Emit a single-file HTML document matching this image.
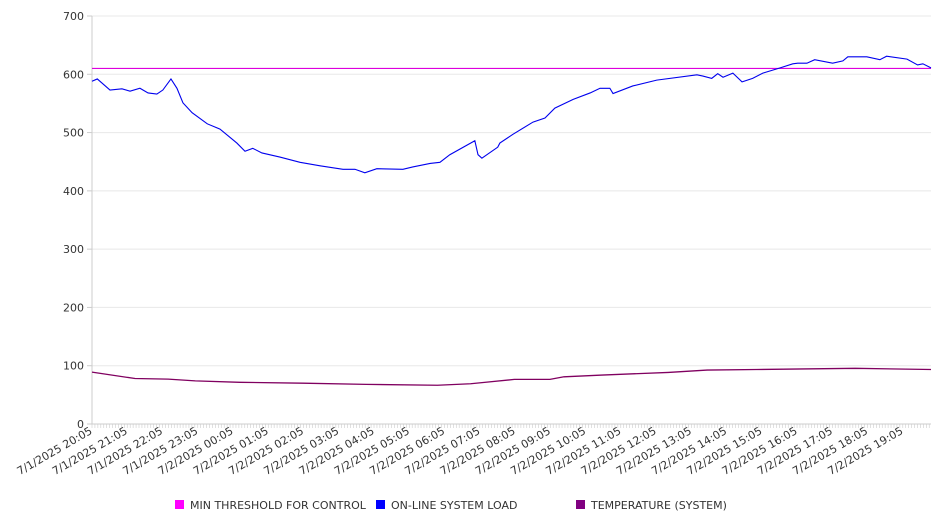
<!DOCTYPE html>
<html><head><meta charset="utf-8"><style>
html,body{margin:0;padding:0;background:#fff;}
svg{display:block;font-family:"DejaVu Sans","Liberation Sans",sans-serif;}
</style></head><body>
<svg id="chart" width="946" height="526" viewBox="0 0 946 526" xmlns="http://www.w3.org/2000/svg">
<g id="grid"></g>
<g id="yaxis"></g>
<g id="xaxis"></g>
<g id="series"></g>
<g font-size="11" fill="#333">
  <g><rect x="175" y="500" width="9" height="9" fill="#ff00ff"/><text x="190" y="509">MIN THRESHOLD FOR CONTROL</text></g>
  <g><rect x="376" y="500" width="9" height="9" fill="#0000ff"/><text x="391" y="509">ON-LINE SYSTEM LOAD</text></g>
  <g><rect x="576" y="500" width="9" height="9" fill="#800080"/><text x="591" y="509">TEMPERATURE (SYSTEM)</text></g>
</g>
</svg>
<script>
const yTicks = [0,100,200,300,400,500,600,700];
const xLabels = ["7/1/2025 20:05","7/1/2025 21:05","7/1/2025 22:05","7/1/2025 23:05","7/2/2025 00:05","7/2/2025 01:05","7/2/2025 02:05","7/2/2025 03:05","7/2/2025 04:05","7/2/2025 05:05","7/2/2025 06:05","7/2/2025 07:05","7/2/2025 08:05","7/2/2025 09:05","7/2/2025 10:05","7/2/2025 11:05","7/2/2025 12:05","7/2/2025 13:05","7/2/2025 14:05","7/2/2025 15:05","7/2/2025 16:05","7/2/2025 17:05","7/2/2025 18:05","7/2/2025 19:05"];
const threshold = 610;
const loadHours = [0,0.15,0.51,0.85,1.08,1.36,1.59,1.84,2.01,2.24,2.41,2.58,2.84,3.27,3.63,4.11,4.34,4.56,4.82,5.33,5.90,6.47,7.12,7.46,7.74,8.08,8.82,9.10,9.59,9.87,10.15,10.86,10.95,11.06,11.51,11.57,11.94,12.51,12.85,13.13,13.65,14.13,14.41,14.69,14.78,15.34,16.02,17.16,17.33,17.58,17.75,17.90,18.18,18.44,18.74,19.03,19.52,19.88,20.02,20.28,20.50,21.01,21.30,21.44,21.98,22.35,22.54,23.12,23.42,23.57,23.80];
const loadValues = [588,592,573,575,571,576,568,566,573,592,576,551,534,515,506,482,468,473,465,458,449,443,437,437,431,438,437,441,447,449,462,486,462,456,475,482,497,518,525,542,557,568,576,576,567,580,590,599,597,593,601,595,602,587,593,602,611,618,619,619,625,619,623,630,630,625,631,626,616,618,611];
const tempHours = [0,1.22,2.16,2.93,4.19,5.99,7.78,9.80,10.74,11.98,12.99,13.39,14.47,16.35,17.45,18.85,21.65,23.80];
const tempValues = [89,78,77,74,71.5,70,68,66.5,69,76.5,76.5,81,84,88.5,92.5,93.5,95.5,93.5];

const X0=92, X1=931, Y0=424, Y1=16, HMAX=23.80;
const xs = h => X0 + (h/HMAX)*(X1-X0);
const ys = v => Y0 - (v/700)*(Y0-Y1);
const NS="http://www.w3.org/2000/svg";
function mk(tag, parent, attrs){const e=document.createElementNS(NS,tag);for(const k in attrs)e.setAttribute(k,attrs[k]);parent.appendChild(e);return e;}
const grid=document.getElementById('grid'), yax=document.getElementById('yaxis'), xax=document.getElementById('xaxis'), ser=document.getElementById('series');

yTicks.forEach(v=>{
  const l=mk('line',grid,{x1:X0,x2:X1,y1:ys(v),y2:ys(v),stroke:'#e8e8e8','stroke-width':1});
  
  
  mk('line',yax,{x1:X0-5,x2:X0,y1:ys(v),y2:ys(v),stroke:'#ccc'});
  const t=mk('text',yax,{x:X0-8,y:ys(v)+4,'text-anchor':'end','font-size':11,fill:'#333'});
  t.textContent=v;
  
  
});
mk('line',yax,{x1:X0,x2:X0,y1:Y1,y2:Y0,stroke:'#ccc'});
mk('line',xax,{x1:X0,x2:X1,y1:Y0,y2:Y0,stroke:'#ccc'});
for(let m=0;m<=HMAX*60;m+=5){const x=xs(m/60);mk('line',xax,{x1:x,x2:x,y1:Y0,y2:Y0+4,stroke:'#ccc','stroke-width':0.6});}
xLabels.forEach((s,i)=>{
  const x=xs(i)+1, y=Y0+9;
  const t=mk('text',xax,{x:x,y:y,'text-anchor':'end','font-size':11,fill:'#333',transform:`rotate(-30 ${x} ${y})`});
  t.textContent=s;
  
  
});
const th=mk('line',ser,{x1:X0,x2:X1,y1:ys(threshold),y2:ys(threshold),stroke:'#dd00dd','stroke-width':1.2});


const lp=mk('polyline',ser,{points:loadHours.map((h,i)=>xs(h)+','+ys(loadValues[i])).join(' '),fill:'none',stroke:'#0000ee','stroke-width':1.1});


const tp=mk('polyline',ser,{points:tempHours.map((h,i)=>xs(h)+','+ys(tempValues[i])).join(' '),fill:'none',stroke:'#800060','stroke-width':1.3});


</script>
</body></html>
